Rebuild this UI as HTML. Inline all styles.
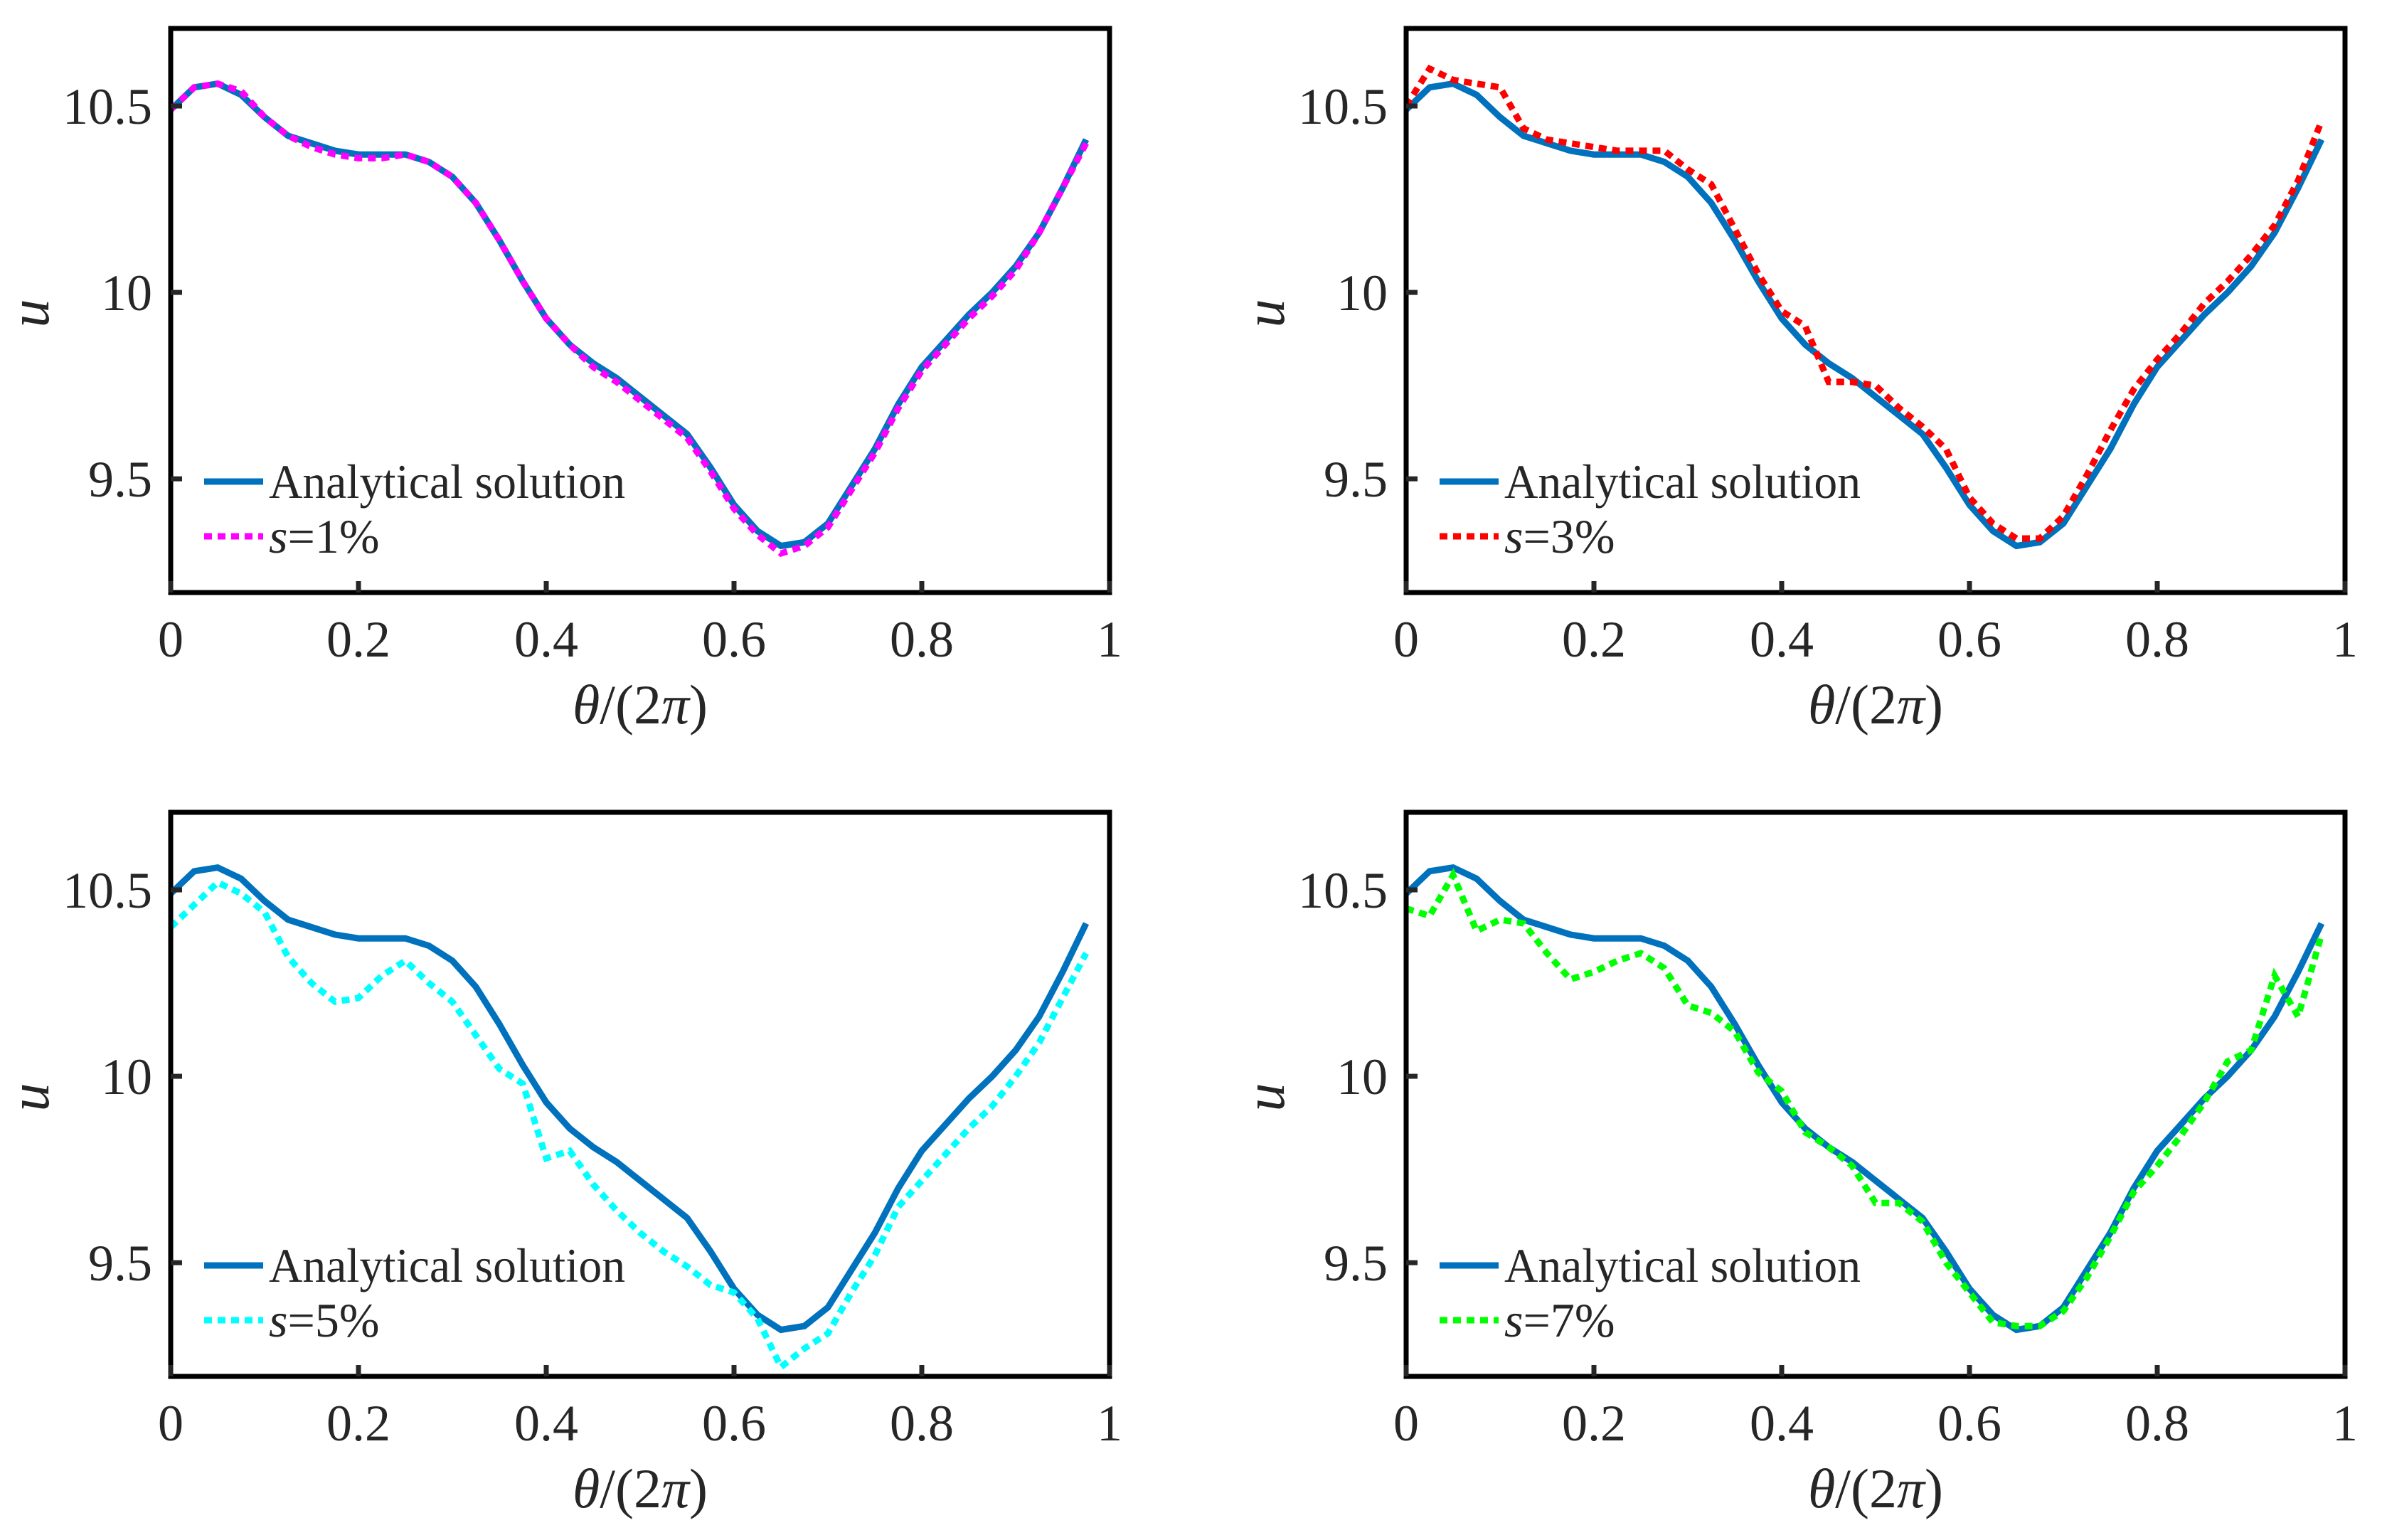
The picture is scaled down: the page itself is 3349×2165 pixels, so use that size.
<!DOCTYPE html>
<html><head><meta charset="utf-8"><style>
html,body{margin:0;padding:0;background:#fff;}
svg{display:block;}
text{font-family:"Liberation Serif",serif;fill:#262626;}
</style></head><body>
<svg id="fig" width="3349" height="2165" viewBox="0 0 3349 2165" xmlns="http://www.w3.org/2000/svg"></svg>
<script>
const thetaValues = [0,0.025,0.05,0.075,0.1,0.125,0.15,0.175,0.2,0.225,0.25,0.275,0.3,0.325,0.35,0.375,0.4,0.425,0.45,0.475,0.5,0.525,0.55,0.575,0.6,0.625,0.65,0.675,0.7,0.725,0.75,0.775,0.8,0.825,0.85,0.875,0.9,0.925,0.95,0.975];
const analyticalValues = [10.49,10.55,10.56,10.53,10.47,10.42,10.40,10.38,10.37,10.37,10.37,10.35,10.31,10.24,10.14,10.03,9.93,9.86,9.81,9.77,9.72,9.67,9.62,9.53,9.43,9.36,9.32,9.33,9.38,9.48,9.58,9.70,9.80,9.87,9.94,10.00,10.07,10.16,10.28,10.41];
const noisy1Values = [10.49,10.55,10.56,10.54,10.47,10.42,10.39,10.37,10.36,10.36,10.37,10.35,10.31,10.24,10.14,10.03,9.93,9.86,9.80,9.76,9.71,9.66,9.61,9.52,9.42,9.35,9.30,9.32,9.37,9.47,9.57,9.69,9.79,9.86,9.93,9.99,10.06,10.16,10.28,10.40];
const noisy3Values = [10.50,10.60,10.57,10.56,10.55,10.44,10.41,10.40,10.39,10.38,10.38,10.38,10.33,10.29,10.17,10.05,9.95,9.91,9.76,9.76,9.75,9.69,9.64,9.58,9.45,9.38,9.34,9.34,9.40,9.51,9.63,9.74,9.82,9.89,9.97,10.03,10.10,10.18,10.30,10.46];
const noisy5Values = [10.40,10.46,10.52,10.49,10.44,10.32,10.25,10.20,10.21,10.27,10.31,10.25,10.20,10.11,10.02,9.98,9.78,9.80,9.71,9.64,9.58,9.53,9.49,9.44,9.42,9.35,9.22,9.27,9.31,9.42,9.52,9.65,9.72,9.79,9.86,9.92,10.00,10.09,10.21,10.33];
const noisy7Values = [10.45,10.43,10.54,10.39,10.42,10.41,10.33,10.26,10.28,10.31,10.33,10.29,10.19,10.17,10.12,10.01,9.96,9.85,9.81,9.76,9.66,9.66,9.61,9.50,9.42,9.34,9.33,9.33,9.37,9.46,9.57,9.69,9.76,9.84,9.93,10.04,10.07,10.27,10.16,10.38];
const xTickValues = [0,0.2,0.4,0.6,0.8,1];
const xTickLabels = ["0","0.2","0.4","0.6","0.8","1"];
const yTickValues = [9.5,10,10.5];
const yTickLabels = ["9.5","10","10.5"];
const noiseLabels = ["1%","3%","5%","7%"];
const noiseColors = ["#ff00ff","#ff0000","#00ffff","#00ff00"];
const noiseSeries = [noisy1Values,noisy3Values,noisy5Values,noisy7Values];

const NS="http://www.w3.org/2000/svg";
const svg=document.getElementById('fig');
const X0=0,X1=1,Y0=9.195,Y1=10.708;
const panels=[{l:240,t:40,w:1320,h:793},{l:1977,t:40,w:1320,h:793},{l:240,t:1142,w:1320,h:793},{l:1977,t:1142,w:1320,h:793}];
function mk(tag,attrs,parent){const e=document.createElementNS(NS,tag);for(const k in attrs)e.setAttribute(k,attrs[k]);(parent||svg).appendChild(e);return e;}

panels.forEach((p,i)=>{
  const g=mk('g',{});
  
  
  const xs=v=>p.l+(v-X0)/(X1-X0)*p.w;
  const ys=v=>p.t+p.h-(v-Y0)/(Y1-Y0)*p.h;
  const clipId='clip'+i;
  const cp=mk('clipPath',{id:clipId},g);
  mk('rect',{x:p.l,y:p.t,width:p.w,height:p.h},cp);
  // analytical line
  const pts=thetaValues.map((t,k)=>xs(t).toFixed(1)+','+ys(analyticalValues[k]).toFixed(1)).join(' ');
  const a=mk('polyline',{points:pts,fill:'none',stroke:'#0072bd','stroke-width':9,'stroke-linejoin':'miter','clip-path':'url(#'+clipId+')'},g);
  
  
  const ser=noiseSeries[i];
  const pts2=thetaValues.map((t,k)=>xs(t).toFixed(1)+','+ys(ser[k]).toFixed(1)).join(' ');
  const n=mk('polyline',{points:pts2,fill:'none',stroke:noiseColors[i],'stroke-width':9,'stroke-dasharray':'11 8','clip-path':'url(#'+clipId+')'},g);
  
  
  // frame
  const f=mk('rect',{x:p.l,y:p.t,width:p.w,height:p.h,fill:'none',stroke:'#000','stroke-width':7},g);
  
  
  // x ticks
  xTickValues.forEach((v,k)=>{
    const x=xs(v);
    mk('line',{x1:x,x2:x,y1:p.t+p.h,y2:p.t+p.h-16,stroke:'#262626','stroke-width':7},g);
    const tx=mk('text',{x:x,y:p.t+p.h+90,'font-size':72,'text-anchor':'middle'},g);
    tx.textContent=xTickLabels[k];
    
    
  });
  yTickValues.forEach((v,k)=>{
    const y=ys(v);
    mk('line',{x1:p.l,x2:p.l+16,y1:y,y2:y,stroke:'#262626','stroke-width':7},g);
    const tx=mk('text',{x:p.l-26,y:y+25,'font-size':72,'text-anchor':'end'},g);
    tx.textContent=yTickLabels[k];
    
    
  });
  // axis titles
  const xt=mk('text',{x:p.l+p.w/2,y:p.t+p.h+184,'font-size':78,'text-anchor':'middle'},g);
  xt.innerHTML='<tspan font-style="italic">θ</tspan>/(2<tspan font-style="italic">π</tspan>)';
  
  
  const yt=mk('text',{x:0,y:0,'font-size':80,'font-style':'italic','text-anchor':'middle',transform:'translate('+(p.l-172)+','+(p.t+p.h/2+4)+') rotate(-90)'},g);
  yt.textContent='u';
  
  
  // legend
  const lg=mk('g',{},g);
  
  
  const ly1=p.t+637, ly2=p.t+714;
  mk('line',{x1:p.l+47,x2:p.l+130,y1:ly1,y2:ly1,stroke:'#0072bd','stroke-width':9},lg);
  const t1=mk('text',{x:p.l+138,y:ly1+23,'font-size':68,textLength:501,lengthAdjust:'spacingAndGlyphs',fill:'#000'},lg);
  t1.textContent='Analytical solution';
  
  
  mk('line',{x1:p.l+47,x2:p.l+130,y1:ly2,y2:ly2,stroke:noiseColors[i],'stroke-width':9,'stroke-dasharray':'11 8'},lg);
  const t2=mk('text',{x:p.l+138,y:ly2+23,'font-size':68,fill:'#000'},lg);
  t2.innerHTML='<tspan font-style="italic">s</tspan>='+noiseLabels[i];
  
  
});
</script>
</body></html>
